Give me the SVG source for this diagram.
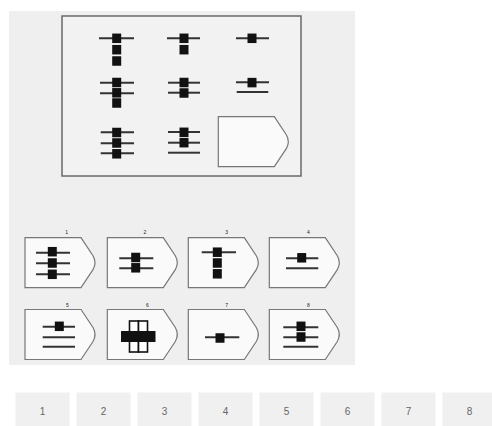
<svg xmlns="http://www.w3.org/2000/svg" width="492" height="426" viewBox="0 0 492 426">
<style>
.ln{stroke:#333;stroke-width:2;fill:none}
.sq{fill:#111}
.tag{fill:#fafafa;stroke:#777;stroke-width:1.2}
.frame{fill:#f2f2f2;stroke:#6a6a6a;stroke-width:1.5}
.lbl{font-family:"Liberation Sans",Arial,sans-serif;font-size:5px;fill:#222;text-anchor:middle}
.btn{fill:#f0f0f0}
.bt{font-family:"Liberation Sans",Arial,sans-serif;font-size:10px;fill:#666;text-anchor:middle}
</style>
<defs>
<path id="shape" d="M0,0 H56 L68,18 Q72,25 68,32 L56,50 H0 Z"/>
<rect id="s" x="-4.5" y="-4.75" width="9" height="9.5"/>
</defs>
<rect width="492" height="426" fill="#ffffff"/>
<rect x="9" y="11" width="346" height="354" fill="#efefef"/>
<g id="matrix">
<rect class="frame" x="62" y="16" width="239" height="160"/>
<g id="c11">
<line class="ln" x1="99" y1="38.3" x2="134" y2="38.3"/>
<use href="#s" class="sq" x="116.7" y="38.3"/><use href="#s" class="sq" x="116.7" y="49.7"/><use href="#s" class="sq" x="116.7" y="61"/>
</g>
<g id="c12">
<line class="ln" x1="167" y1="38.3" x2="200" y2="38.3"/>
<use href="#s" class="sq" x="184" y="38.3"/><use href="#s" class="sq" x="184" y="49.7"/>
</g>
<g id="c13">
<line class="ln" x1="236" y1="38.3" x2="269" y2="38.3"/>
<use href="#s" class="sq" x="252" y="38.3"/>
</g>
<g id="c21">
<line class="ln" x1="100" y1="82.7" x2="134" y2="82.7"/><line class="ln" x1="100" y1="93.3" x2="134" y2="93.3"/>
<use href="#s" class="sq" x="116.7" y="82.5"/><use href="#s" class="sq" x="116.7" y="92.8"/><use href="#s" class="sq" x="116.7" y="103"/>
</g>
<g id="c22">
<line class="ln" x1="168" y1="82.7" x2="200" y2="82.7"/><line class="ln" x1="168" y1="92.7" x2="200" y2="92.7"/>
<use href="#s" class="sq" x="184" y="82.5"/><use href="#s" class="sq" x="184" y="93"/>
</g>
<g id="c23">
<line class="ln" x1="236" y1="82.3" x2="269" y2="82.3"/><line class="ln" x1="236.7" y1="92" x2="268.3" y2="92"/>
<use href="#s" class="sq" x="252" y="82.6"/>
</g>
<g id="c31">
<line class="ln" x1="100.7" y1="132.3" x2="134" y2="132.3"/><line class="ln" x1="100.7" y1="143.3" x2="134" y2="143.3"/><line class="ln" x1="100.7" y1="153.3" x2="134" y2="153.3"/>
<use href="#s" class="sq" x="116.7" y="132.5"/><use href="#s" class="sq" x="116.7" y="143"/><use href="#s" class="sq" x="116.7" y="153.8"/>
</g>
<g id="c32">
<line class="ln" x1="168" y1="132" x2="200" y2="132"/><line class="ln" x1="168" y1="142.7" x2="200" y2="142.7"/><line class="ln" x1="168" y1="152.7" x2="200" y2="152.7"/>
<use href="#s" class="sq" x="184" y="132.3"/><use href="#s" class="sq" x="184" y="142.7"/>
</g>
<g id="c33">
<use href="#shape" class="tag" x="218.3" y="116.7"/>
</g>
</g>
<g id="options">
<g id="o1">
<use href="#shape" class="tag" x="25" y="237.7"/>
<text class="lbl" x="66.7" y="234">1</text>
<line class="ln" x1="36" y1="252.7" x2="70" y2="252.7"/><line class="ln" x1="36" y1="263.3" x2="70" y2="263.3"/><line class="ln" x1="36" y1="274.3" x2="70" y2="274.3"/>
<use href="#s" class="sq" x="52.3" y="251.7"/><use href="#s" class="sq" x="52.3" y="263"/><use href="#s" class="sq" x="52.3" y="274.3"/>
</g>
<g id="o2">
<use href="#shape" class="tag" x="107.3" y="237.7"/>
<text class="lbl" x="145" y="234">2</text>
<line class="ln" x1="119.3" y1="258.3" x2="153.3" y2="258.3"/><line class="ln" x1="119.3" y1="268.3" x2="153.3" y2="268.3"/>
<use href="#s" class="sq" x="135.7" y="257.5"/><use href="#s" class="sq" x="135.7" y="267.8"/>
</g>
<g id="o3">
<use href="#shape" class="tag" x="188.3" y="237.7"/>
<text class="lbl" x="226.7" y="234">3</text>
<line class="ln" x1="201.7" y1="252.3" x2="236" y2="252.3"/>
<use href="#s" class="sq" x="217.3" y="252.2"/><use href="#s" class="sq" x="217.3" y="263"/><use href="#s" class="sq" x="217.3" y="273.8"/>
</g>
<g id="o4">
<use href="#shape" class="tag" x="269.3" y="237.7"/>
<text class="lbl" x="308.3" y="234">4</text>
<line class="ln" x1="286" y1="258.3" x2="318.3" y2="258.3"/><line class="ln" x1="286" y1="268.3" x2="318.3" y2="268.3"/>
<use href="#s" class="sq" x="301.7" y="257.8"/>
</g>
<g id="o5">
<use href="#shape" class="tag" x="25" y="309.5"/>
<text class="lbl" x="67.3" y="306.5">5</text>
<line class="ln" x1="42.7" y1="326.7" x2="75" y2="326.7"/><line class="ln" x1="42.7" y1="337.3" x2="75" y2="337.3"/><line class="ln" x1="42.7" y1="346.7" x2="75" y2="346.7"/>
<use href="#s" class="sq" x="59.3" y="326.3"/>
</g>
<g id="o6">
<use href="#shape" class="tag" x="107.3" y="309.5"/>
<text class="lbl" x="147.3" y="306.5">6</text>
<rect x="129.5" y="321" width="9" height="31" fill="#fff" stroke="#111" stroke-width="1.6"/>
<rect x="138.5" y="321" width="9" height="31" fill="#fff" stroke="#111" stroke-width="1.6"/>
<rect x="121" y="331" width="34.5" height="11" fill="#111"/>
</g>
<g id="o7">
<use href="#shape" class="tag" x="188.3" y="309.5"/>
<text class="lbl" x="226.7" y="306.5">7</text>
<line class="ln" x1="205" y1="337.3" x2="239.3" y2="337.3"/>
<use href="#s" class="sq" x="220" y="338"/>
</g>
<g id="o8">
<use href="#shape" class="tag" x="269.3" y="309.5"/>
<text class="lbl" x="308.3" y="306.5">8</text>
<line class="ln" x1="283.3" y1="327.3" x2="318.3" y2="327.3"/><line class="ln" x1="283.3" y1="337.3" x2="318.3" y2="337.3"/><line class="ln" x1="283.3" y1="346.7" x2="318.3" y2="346.7"/>
<use href="#s" class="sq" x="301" y="326.3"/><use href="#s" class="sq" x="301" y="337"/>
</g>
</g>
<g id="buttons">
<g id="b1"><rect class="btn" x="15.5" y="392.5" width="54" height="33.5"/><text class="bt" x="42.5" y="414.5">1</text></g>
<g id="b2"><rect class="btn" x="76.5" y="392.5" width="54" height="33.5"/><text class="bt" x="103.5" y="414.5">2</text></g>
<g id="b3"><rect class="btn" x="137.5" y="392.5" width="54" height="33.5"/><text class="bt" x="164.5" y="414.5">3</text></g>
<g id="b4"><rect class="btn" x="198.5" y="392.5" width="54" height="33.5"/><text class="bt" x="225.5" y="414.5">4</text></g>
<g id="b5"><rect class="btn" x="259.5" y="392.5" width="54" height="33.5"/><text class="bt" x="286.5" y="414.5">5</text></g>
<g id="b6"><rect class="btn" x="320.5" y="392.5" width="54" height="33.5"/><text class="bt" x="347.5" y="414.5">6</text></g>
<g id="b7"><rect class="btn" x="381.5" y="392.5" width="54" height="33.5"/><text class="bt" x="408.5" y="414.5">7</text></g>
<g id="b8"><rect class="btn" x="442.5" y="392.5" width="54" height="33.5"/><text class="bt" x="469.5" y="414.5">8</text></g>
</g>
</svg>
